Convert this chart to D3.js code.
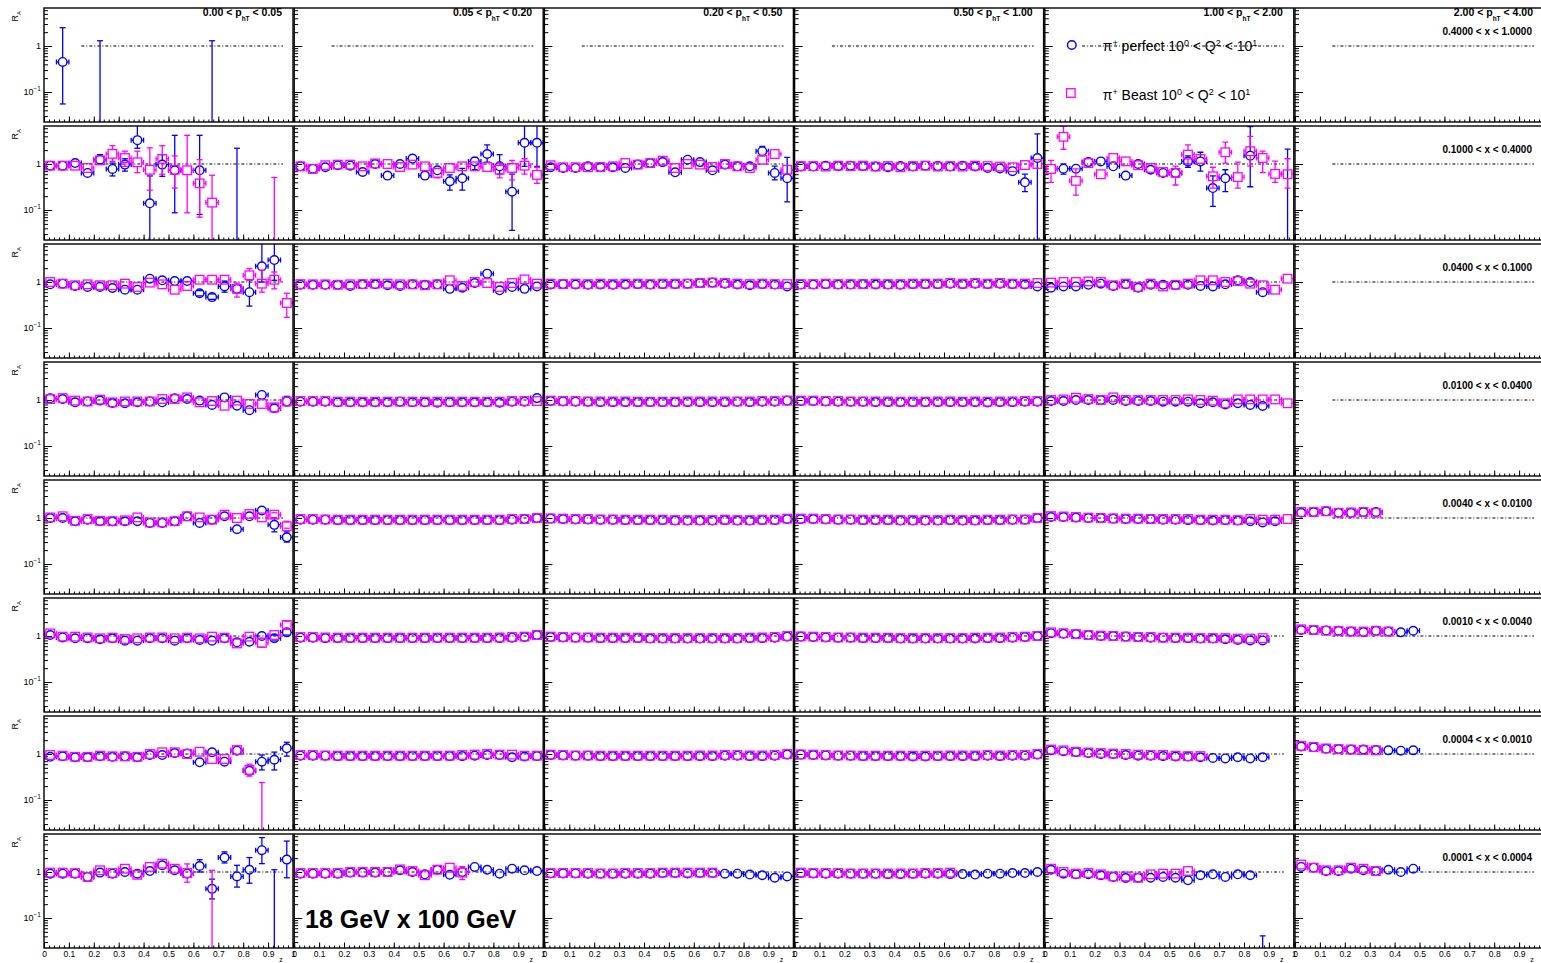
<!DOCTYPE html>
<html>
<head>
<meta charset="utf-8">
<script src="https://cdn.jsdelivr.net/npm/d3@7"></script>
<style>
body { margin: 0; background: #fff; }
text { font-family: "Liberation Sans", Arial, Helvetica, sans-serif; }
</style>
</head>
<body>
<svg width="1541" height="963"></svg>
<script>
// z bin centres and axis labels
var zBins = [0.025,0.075,0.125,0.175,0.225,0.275,0.325,0.375,0.425,0.475,0.525,0.575,0.625,0.675,0.725,0.775,0.825,0.875,0.925,0.975];
var zTicks = [0,0.1,0.2,0.3,0.4,0.5,0.6,0.7,0.8,0.9,1];
var zTickLabels = ['0','0.1','0.2','0.3','0.4','0.5','0.6','0.7','0.8','0.9','1'];

// column (pT) and row (x) bins
var ptLo = ['0.00','0.05','0.20','0.50','1.00','2.00'];
var ptHi = ['0.05','0.20','0.50','1.00','2.00','4.00'];
var xLo = ['0.4000','0.1000','0.0400','0.0100','0.0040','0.0010','0.0004','0.0001'];
var xHi = ['1.0000','0.4000','0.1000','0.0400','0.0100','0.0040','0.0010','0.0004'];

// R_A values, one array per pT column, 20 z bins each (null = no point)
var perfRow0 = [
  [null,0.45,null,null,0.01,null,null,null,null,null,null,null,null,0.01,null,null,null,null,null,null],
  [], [], [], [], []
];
var beastRow0 = [[], [], [], [], [], []];

var perfRow1 = [
  [0.92,0.92,1.05,0.64,1.24,0.78,0.97,3.3,0.14,0.97,0.73,null,0.73,null,null,0.01,null,null,null,null],
  [0.89,0.79,0.85,0.94,0.92,0.67,1.0,0.56,1.0,1.31,0.56,0.73,0.42,0.49,1.14,1.65,0.89,0.25,2.9,2.9],
  [0.85,0.82,0.82,0.89,0.85,0.85,0.82,0.97,1.05,1.1,0.66,1.24,1.1,0.73,0.97,0.89,0.89,1.9,0.64,0.49],
  [0.88,0.88,0.92,0.9,0.92,0.9,0.88,0.85,0.9,0.88,0.92,0.9,0.88,0.92,0.88,0.82,0.8,0.7,0.4,1.35],
  [null,0.79,0.79,1.1,1.14,0.89,0.56,1.0,0.75,0.64,0.64,1.14,1.14,0.3,0.49,null,1.52,null,null,0.01],
  []
];
var beastRow1 = [
  [0.92,0.92,0.92,0.82,1.2,1.66,1.35,1.09,0.75,1.29,0.75,0.73,0.38,0.145,null,null,null,null,0.01,null],
  [0.89,0.78,0.94,0.97,0.97,0.89,1.03,1.0,0.86,0.97,0.89,0.64,0.82,0.89,0.89,0.86,0.75,0.82,0.92,0.58],
  [0.94,0.85,0.85,0.85,0.86,0.89,1.05,0.97,1.05,1.18,0.82,1.0,0.97,0.86,1.0,0.89,0.82,1.24,1.65,0.75],
  [0.9,0.9,0.88,0.92,0.9,0.92,0.88,0.9,0.85,0.9,0.92,0.88,0.9,0.88,0.92,0.9,0.88,0.85,0.95,1.0],
  [0.78,3.9,0.43,1.05,0.6,1.35,1.14,0.94,0.82,0.67,0.64,1.6,1.29,0.54,1.8,0.52,1.9,1.35,0.61,0.6],
  []
];

var perfRow2 = [
  [0.89,0.92,0.82,0.78,0.78,0.74,0.68,0.68,1.18,1.09,1.05,1.05,0.57,0.47,0.8,0.71,0.6,2.2,3.0,null],
  [0.87,0.87,0.87,0.87,0.82,0.89,0.89,0.85,0.82,0.89,0.87,0.89,0.71,0.75,0.95,1.52,0.66,0.78,0.71,0.8],
  [0.88,0.9,0.88,0.87,0.88,0.87,0.88,0.9,0.88,0.9,0.9,0.92,0.95,0.97,0.92,0.88,0.85,0.9,0.88,0.8],
  [0.88,0.88,0.9,0.88,0.88,0.9,0.88,0.88,0.87,0.9,0.9,0.9,0.92,0.9,0.92,0.9,0.92,0.9,0.88,0.8],
  [0.75,0.8,0.8,0.87,0.92,0.82,0.89,0.75,0.87,0.87,0.85,0.87,0.82,0.8,0.89,1.09,1.0,0.6,null,null],
  []
];
var beastRow2 = [
  [1.0,0.92,0.85,0.89,0.85,0.85,0.92,0.78,0.97,0.89,0.68,0.82,1.12,1.12,1.12,0.71,1.4,0.92,1.12,0.35],
  [0.9,0.89,0.89,0.87,0.89,0.9,0.92,0.92,0.89,0.89,0.85,0.89,1.09,0.82,1.0,0.95,0.78,0.95,1.14,0.92],
  [0.92,0.9,0.92,0.9,0.92,0.9,0.92,0.92,0.9,0.92,0.92,0.92,0.95,0.97,0.95,0.92,0.9,0.92,0.9,0.9],
  [0.9,0.9,0.92,0.9,0.9,0.9,0.92,0.9,0.9,0.92,0.92,0.92,0.95,0.92,0.95,0.92,0.95,0.92,0.92,0.95],
  [0.97,1.0,1.0,1.03,1.0,0.85,0.92,0.78,0.92,0.8,0.87,0.92,1.09,1.09,1.0,1.05,0.92,0.85,0.68,1.18],
  []
];

var perfRow3 = [
  [1.09,1.05,0.89,0.93,0.97,0.86,0.85,0.89,0.93,0.89,1.09,1.05,0.97,0.78,1.14,0.75,0.6,1.29,0.66,0.93],
  [0.92,0.92,0.92,0.89,0.89,0.89,0.89,0.89,0.92,0.89,0.89,0.87,0.89,0.89,0.89,0.89,0.87,0.92,0.92,1.1],
  [0.95,0.93,0.92,0.92,0.9,0.9,0.9,0.9,0.9,0.9,0.9,0.9,0.9,0.9,0.9,0.92,0.9,0.92,0.92,0.97],
  [0.95,0.95,0.93,0.92,0.92,0.92,0.9,0.9,0.9,0.9,0.9,0.9,0.9,0.9,0.9,0.88,0.9,0.9,0.92,0.92],
  [0.95,0.95,1.0,1.0,1.0,1.0,0.95,0.95,0.95,0.92,0.92,0.92,0.85,0.89,0.8,0.85,0.78,0.74,null,null],
  []
];
var beastRow3 = [
  [1.05,1.1,0.97,0.93,1.02,0.89,0.93,0.93,0.93,1.05,1.05,1.14,0.89,0.95,0.75,0.97,0.82,0.82,0.69,0.93],
  [0.95,0.95,0.95,0.92,0.92,0.92,0.92,0.92,0.92,0.92,0.92,0.92,0.92,0.92,0.92,0.92,0.92,0.95,0.95,0.95],
  [0.97,0.95,0.95,0.93,0.93,0.93,0.93,0.92,0.92,0.92,0.92,0.93,0.93,0.93,0.93,0.93,0.93,0.95,0.95,0.97],
  [0.97,0.97,0.95,0.95,0.93,0.93,0.93,0.93,0.92,0.92,0.92,0.93,0.93,0.92,0.93,0.92,0.93,0.93,0.95,0.95],
  [1.0,1.03,1.12,1.05,1.0,1.14,1.0,1.0,1.0,1.0,1.0,1.03,1.0,0.97,0.85,1.03,1.03,1.03,1.03,0.85],
  []
];

var perfRow4 = [
  [1.0,1.0,0.85,0.92,0.85,0.85,0.85,0.85,0.78,0.78,0.85,1.09,0.78,0.92,1.09,0.57,1.09,1.45,0.71,0.38],
  [0.92,0.92,0.92,0.9,0.9,0.9,0.9,0.9,0.9,0.9,0.9,0.9,0.9,0.9,0.9,0.9,0.9,0.92,0.95,1.0],
  [0.97,0.95,0.93,0.93,0.92,0.92,0.9,0.9,0.9,0.9,0.88,0.88,0.88,0.88,0.9,0.88,0.88,0.9,0.9,0.95],
  [0.95,0.95,0.93,0.92,0.92,0.9,0.9,0.9,0.88,0.88,0.88,0.88,0.9,0.88,0.88,0.9,0.9,0.92,0.92,1.0],
  [1.05,1.05,1.02,1.0,1.0,0.97,0.95,0.95,0.95,0.92,0.92,0.9,0.9,0.88,0.9,0.88,0.85,0.8,0.85,null],
  [1.3,1.35,1.4,1.3,1.3,1.35,1.35]
];
var beastRow4 = [
  [1.03,1.09,0.87,0.95,0.87,0.85,0.89,1.03,0.8,0.8,0.85,1.09,1.03,0.92,1.18,1.0,1.22,1.03,1.18,0.66],
  [0.95,0.95,0.93,0.92,0.92,0.92,0.92,0.92,0.92,0.92,0.92,0.92,0.92,0.92,0.92,0.92,0.92,0.95,0.95,1.0],
  [0.98,0.97,0.95,0.95,0.93,0.93,0.92,0.92,0.92,0.92,0.9,0.9,0.9,0.9,0.92,0.9,0.9,0.92,0.92,0.97],
  [0.97,0.97,0.95,0.93,0.93,0.92,0.92,0.92,0.9,0.9,0.9,0.9,0.92,0.9,0.9,0.92,0.92,0.93,0.93,1.0],
  [1.1,1.08,1.05,1.02,1.0,0.98,0.97,0.97,0.95,0.95,0.95,0.95,0.92,0.92,0.92,0.9,0.95,0.92,0.92,0.95],
  [1.35,1.35,1.4,1.3,1.32,1.35,1.3]
];

var perfRow5 = [
  [1.05,0.93,0.89,0.89,0.85,0.89,0.79,0.79,0.89,0.89,0.79,0.89,0.82,0.79,0.89,0.73,0.75,1.0,0.89,1.2],
  [0.92,0.92,0.9,0.9,0.9,0.9,0.9,0.9,0.9,0.9,0.9,0.9,0.9,0.9,0.9,0.9,0.9,0.92,0.95,1.05],
  [0.95,0.93,0.92,0.92,0.9,0.9,0.9,0.9,0.88,0.88,0.88,0.88,0.88,0.88,0.88,0.88,0.9,0.9,0.92,0.97],
  [0.97,0.95,0.93,0.92,0.92,0.9,0.9,0.9,0.88,0.88,0.88,0.88,0.88,0.88,0.88,0.9,0.9,0.92,0.95,1.0],
  [1.15,1.12,1.1,1.05,1.0,1.0,0.97,0.95,0.92,0.92,0.9,0.9,0.88,0.88,0.85,0.82,0.8,0.8,null,null],
  [1.35,1.35,1.32,1.3,1.25,1.22,1.3,1.25,1.2,1.3]
];
var beastRow5 = [
  [1.14,0.97,0.97,0.93,0.89,0.92,0.86,0.89,0.93,0.93,0.89,0.92,0.89,0.97,0.92,0.69,0.97,0.71,1.05,1.74],
  [0.95,0.95,0.93,0.92,0.92,0.92,0.92,0.92,0.92,0.92,0.92,0.92,0.92,0.92,0.92,0.92,0.93,0.95,0.97,1.05],
  [0.97,0.95,0.93,0.93,0.92,0.92,0.92,0.92,0.9,0.9,0.9,0.9,0.9,0.9,0.9,0.9,0.92,0.93,0.95,1.0],
  [0.98,0.97,0.95,0.93,0.93,0.92,0.92,0.92,0.9,0.9,0.9,0.9,0.9,0.9,0.92,0.92,0.93,0.95,0.97,1.0],
  [1.2,1.15,1.1,1.05,1.02,1.0,0.97,0.95,0.95,0.92,0.92,0.92,0.9,0.9,0.9,0.88,0.88,0.9,null,null],
  [1.4,1.35,1.3,1.28,1.25,1.25,1.3,1.25]
];

var perfRow6 = [
  [0.87,0.89,0.85,0.85,0.89,0.87,0.89,0.85,0.95,0.95,1.05,1.03,0.66,1.09,0.68,1.18,0.43,0.68,0.75,1.33],
  [0.92,0.92,0.92,0.9,0.9,0.9,0.9,0.9,0.9,0.9,0.9,0.9,0.9,0.9,0.92,0.95,0.95,0.85,0.88,0.9],
  [0.95,0.93,0.92,0.92,0.9,0.9,0.9,0.9,0.9,0.9,0.9,0.9,0.9,0.9,0.92,0.92,0.9,0.9,0.92,0.97],
  [0.97,0.95,0.93,0.92,0.92,0.9,0.9,0.9,0.9,0.88,0.88,0.9,0.9,0.9,0.9,0.92,0.9,0.92,0.92,0.97],
  [1.2,1.15,1.1,1.05,1.0,1.0,0.95,0.92,0.92,0.9,0.88,0.88,0.85,0.82,0.8,0.85,0.8,0.85,null,null],
  [1.45,1.4,1.3,1.28,1.25,1.25,1.22,1.2,1.18,1.2]
];
var beastRow6 = [
  [0.95,0.92,0.87,0.87,0.92,0.89,0.89,0.87,1.0,1.09,1.09,1.0,1.12,0.78,0.78,1.22,0.45,0.005,null,null],
  [0.95,0.95,0.93,0.92,0.92,0.92,0.92,0.92,0.92,0.92,0.92,0.92,0.92,0.95,0.97,1.0,0.97,0.97,0.92,0.92],
  [0.97,0.95,0.93,0.93,0.92,0.92,0.92,0.92,0.92,0.92,0.92,0.92,0.93,0.93,0.95,0.95,0.93,0.93,0.95,1.0],
  [0.98,0.97,0.95,0.93,0.93,0.92,0.92,0.92,0.92,0.92,0.92,0.92,0.93,0.93,0.93,0.95,0.93,0.95,0.95,1.0],
  [1.25,1.2,1.12,1.08,1.05,1.02,1.0,0.97,0.95,0.95,0.92,0.9,0.9],
  [1.5,1.42,1.32,1.28,1.25,1.22,1.2]
];

var perfRow7 = [
  [0.92,0.92,0.92,0.78,0.97,0.92,1.0,0.92,1.05,1.4,1.09,0.92,1.35,0.43,2.06,0.8,1.12,2.98,0.005,1.86],
  [0.92,0.92,0.92,0.92,0.97,0.97,0.97,1.0,1.09,1.0,0.89,1.12,0.87,1.0,1.29,1.12,0.92,1.18,1.09,1.05],
  [0.93,0.93,0.93,0.92,0.92,0.92,0.92,0.92,0.92,0.95,0.95,0.93,0.95,0.95,0.92,0.92,0.88,0.85,0.75,0.8],
  [0.95,0.93,0.92,0.92,0.92,0.92,0.92,0.9,0.9,0.92,0.92,0.92,0.9,0.9,0.88,0.92,0.92,0.95,0.95,1.0],
  [1.12,0.92,0.89,0.89,0.85,0.78,0.74,0.75,0.75,0.78,0.75,0.66,0.85,0.89,0.78,0.89,0.85,0.005,null,null],
  [1.29,1.24,1.05,1.05,1.18,1.09,1.05,1.12,1.0,1.18]
];
var beastRow7 = [
  [0.97,0.97,0.95,0.78,1.09,0.95,1.18,0.87,1.29,1.52,1.18,0.95,null,0.005],
  [0.95,0.95,0.95,0.95,1.0,1.0,1.0,1.0,1.14,1.05,0.85,1.12,1.24,0.97],
  [0.95,0.95,0.95,0.95,0.93,0.93,0.95,0.95,0.95,0.97,0.97,0.97,0.97,0.97],
  [0.97,0.95,0.95,0.95,0.93,0.93,0.93,0.93,0.93,0.93,0.95,0.95,0.97],
  [1.18,1.0,0.92,0.95,0.89,0.8,0.8,0.75,0.89,0.92,0.92,1.05],
  [1.45,1.24,1.09,1.09,1.24,1.18,1.05]
];

// large vertical error bars: [row, col, bin, low end, high end]
var perfBars = [
  [0,0,1,0.055,2.5],[0,0,4,0.001,1.3],[0,0,13,0.001,1.3],
  [1,0,4,1.0,1.6],[1,0,5,0.55,1.05],[1,0,6,0.7,1.3],[1,0,7,2.2,8],[1,0,8,0.001,0.55],[1,0,9,0.54,1.6],
  [1,0,10,0.087,4.2],[1,0,12,0.08,4.2],[1,0,15,0.001,2.2],
  [1,1,12,0.27,0.58],[1,1,13,0.27,0.8],[1,1,14,0.75,1.4],[1,1,15,1.1,2.6],[1,1,16,0.6,1.6],
  [1,1,17,0.036,0.6],[1,1,18,0.89,8],[1,1,19,0.89,8],
  [1,2,17,1.5,2.4],[1,2,18,0.45,0.9],[1,2,19,0.15,1.4],
  [1,3,18,0.25,0.6],[1,3,19,0.001,4.5],
  [1,4,1,0.6,1.0],[1,4,11,0.85,1.5],[1,4,12,0.7,1.8],[1,4,13,0.12,0.55],[1,4,14,0.25,0.75],
  [1,4,16,0.32,6.5],[1,4,19,0.001,2.1],
  [2,0,12,0.5,0.65],[2,0,13,0.42,0.55],[2,0,14,0.6,1.05],[2,0,16,0.3,1.09],[2,0,17,1.0,8],[2,0,18,1.09,8],
  [3,0,18,0.55,0.8],[3,0,19,0.75,1.2],
  [4,0,18,0.5,1.0],[4,0,19,0.3,0.5],
  [5,0,18,0.78,1.05],[5,0,19,1.05,1.4],
  [6,0,17,0.45,0.95],[6,0,18,0.45,1.1],[6,0,19,0.9,1.8],
  [7,0,12,1.0,1.85],[7,0,13,0.26,0.7],[7,0,14,1.57,2.74],[7,0,15,0.47,1.4],[7,0,16,0.57,2.06],
  [7,0,17,1.52,5.6],[7,0,18,0.001,1.12],[7,0,19,0.75,4.7],
  [7,4,17,0.001,0.041]
];
var beastBars = [
  [1,0,5,1.14,2.5],[1,0,6,0.89,1.9],[1,0,7,0.65,1.9],[1,0,8,0.27,2.25],[1,0,9,0.6,2.5],
  [1,0,10,0.3,1.5],[1,0,11,0.087,4.2],[1,0,12,0.07,1.24],[1,0,13,0.001,0.57],[1,0,18,0.001,0.51],
  [1,1,11,0.5,0.8],[1,1,16,0.5,1.05],[1,1,17,0.45,1.2],[1,1,18,0.6,1.3],[1,1,19,0.38,0.85],
  [1,4,0,0.4,1.2],[1,4,1,2.07,6.7],[1,4,2,0.21,0.78],[1,4,10,0.35,0.9],[1,4,11,1.0,2.6],
  [1,4,13,0.3,0.85],[1,4,14,1.05,3.0],[1,4,15,0.3,1.1],[1,4,16,0.9,4.0],[1,4,17,0.65,1.9],
  [1,4,18,0.4,1.15],[1,4,19,0.3,1.3],
  [2,0,15,0.47,0.95],[2,0,16,1.09,1.96],[2,0,17,0.6,1.8],[2,0,18,0.71,1.65],[2,0,19,0.17,0.57],
  [3,0,18,0.55,0.85],
  [4,0,18,1.0,1.3],[4,0,19,0.6,0.85],
  [5,0,17,0.57,0.9],[5,0,19,1.45,2.1],
  [6,0,16,0.33,0.6],[6,0,17,0.001,0.24],
  [7,0,11,0.6,1.5],[7,0,13,0.001,1.09],
  [7,1,13,0.68,1.3]
];

var perfect = [perfRow0, perfRow1, perfRow2, perfRow3, perfRow4, perfRow5, perfRow6, perfRow7];
var beast = [beastRow0, beastRow1, beastRow2, beastRow3, beastRow4, beastRow5, beastRow6, beastRow7];

var svg = d3.select('svg');
var colW = 250.2, rowH = 118, frameW = 249, frameH = 114;
var blue = '#0000ff', pink = '#ff00ff';

var zMinor = d3.range(0, 1.0001, 0.02);
var yMajor = [0.1, 1];
var yMinor = [0.03,0.04,0.05,0.06,0.07,0.08,0.09,0.2,0.3,0.4,0.5,0.6,0.7,0.8,0.9,2,3,4,5,6];

function marker(g, kind, cx, cy, color) {
    if (kind === 'circle') {
        g.append('circle')
            .attr('cx', cx).attr('cy', cy).attr('r', 4.3)
            .attr('fill', 'none').attr('stroke', color).attr('stroke-width', 1.4);
    } else {
        g.append('rect')
            .attr('x', cx - 4.3).attr('y', cy - 4.3)
            .attr('width', 8.6).attr('height', 8.6)
            .attr('fill', 'none').attr('stroke', color).attr('stroke-width', 1.3);
    }
}

function line(g, x1, y1, x2, y2, color, w) {
    g.append('line')
        .attr('x1', x1).attr('y1', y1).attr('x2', x2).attr('y2', y2)
        .attr('stroke', color).attr('stroke-width', w || 1.3);
}

function drawSeries(g, x, y, vals, bars, r, c, kind, color) {
    var half = x(0.025) - x(0);
    var m = 4.3;
    vals.forEach(function(v, i) {
        if (v === null || v === undefined) return;
        var cx = x(zBins[i]), cy = y(v);
        // horizontal bin-width bar
        line(g, cx - half, cy, cx - m, cy, color);
        line(g, cx + m, cy, cx + half, cy, color);
        line(g, cx - half, cy - 2.5, cx - half, cy + 2.5, color);
        line(g, cx + half, cy - 2.5, cx + half, cy + 2.5, color);
        marker(g, kind, cx, cy, color);
    });
    bars.forEach(function(b) {
        if (b[0] !== r || b[1] !== c) return;
        var v = vals[b[2]];
        var cx = x(zBins[b[2]]);
        var yl = y(b[3]), yh = y(b[4]);
        if (v === null || v === undefined) {
            line(g, cx, yh, cx, yl, color);
        } else {
            var cy = y(v);
            if (yh < cy - 4.3) line(g, cx, yh, cx, cy - 4.3, color);
            if (yl > cy + 4.3) line(g, cx, cy + 4.3, cx, yl, color);
        }
        line(g, cx - 3, yh, cx + 3, yh, color);
        line(g, cx - 3, yl, cx + 3, yl, color);
    });
}

for (var r = 0; r < 8; r++) {
    for (var c = 0; c < 6; c++) {
        var x0 = 44 + c * colW, y0 = 8 + r * rowH;
        var x = d3.scaleLinear().domain([0, 1]).range([x0, x0 + frameW]);
        var y = d3.scaleLog().domain([0.0223, 6.7]).range([y0 + frameH, y0]);
        var id = 'clip' + r + '_' + c;

        svg.append('clipPath').attr('id', id)
            .append('rect')
            .attr('x', x0).attr('y', y0).attr('width', frameW).attr('height', frameH);

        // bottom axis, ticks pointing inward
        var xa = svg.append('g').attr('transform', 'translate(0,' + (y0 + frameH) + ')');
        xa.call(d3.axisBottom(x).tickValues(zMinor).tickSizeInner(-2.5).tickSizeOuter(0).tickFormat(''));
        var xb = svg.append('g').attr('transform', 'translate(0,' + (y0 + frameH) + ')');
        xb.call(d3.axisBottom(x).tickValues(zTicks).tickSizeInner(-5.5).tickSizeOuter(0).tickPadding(3)
            .tickFormat(function(d, i) {
                // the last column's "1" falls outside the canvas
                if (r !== 7 || (c === 5 && i === 10)) return '';
                return zTickLabels[i];
            }));
        xa.select('.domain').remove();
        xb.select('.domain').remove();
        xb.selectAll('text').attr('font-size', 8.5).attr('fill', '#000')
            .style('font-family', '"Liberation Sans", Arial, sans-serif');
        xa.selectAll('line').attr('stroke', '#000');
        xb.selectAll('line').attr('stroke', '#000');

        // left axis, log, ticks pointing inward
        var ya = svg.append('g').attr('transform', 'translate(' + x0 + ',0)');
        ya.call(d3.axisLeft(y).tickValues(yMinor).tickSizeInner(-4).tickSizeOuter(0).tickFormat(''));
        var yb = svg.append('g').attr('transform', 'translate(' + x0 + ',0)');
        yb.call(d3.axisLeft(y).tickValues(yMajor).tickSizeInner(-8).tickSizeOuter(0).tickFormat(''));
        ya.select('.domain').remove();
        yb.select('.domain').remove();
        ya.selectAll('line').attr('stroke', '#000');
        yb.selectAll('line').attr('stroke', '#000');

        if (c === 0) {
            svg.append('text').attr('x', x0 - 3).attr('y', y(1) + 3)
                .attr('text-anchor', 'end').attr('font-size', 9).text('1');
            var t = svg.append('text').attr('x', x0 - 3).attr('y', y(0.1) + 3)
                .attr('text-anchor', 'end').attr('font-size', 9);
            t.append('tspan').text('10');
            t.append('tspan').attr('dy', -4).attr('font-size', 6.5).text('\u22121');
            var rt = svg.append('text')
                .attr('transform', 'translate(18,' + (y0 + 3) + ') rotate(-90)')
                .attr('text-anchor', 'end').attr('font-size', 9);
            rt.append('tspan').text('R');
            rt.append('tspan').attr('dy', 2.5).attr('font-size', 6).text('A');
        }

        var g = svg.append('g').attr('clip-path', 'url(#' + id + ')');

        // reference line at R_A = 1
        g.append('line')
            .attr('x1', x(0.15)).attr('x2', x(0.96))
            .attr('y1', y(1)).attr('y2', y(1))
            .attr('stroke', '#000').attr('stroke-width', 1)
            .attr('stroke-dasharray', '3,2,1,2');

        drawSeries(g, x, y, perfect[r][c], perfBars, r, c, 'circle', blue);
        drawSeries(g, x, y, beast[r][c], beastBars, r, c, 'square', pink);

        // frame
        svg.append('rect')
            .attr('x', x0).attr('y', y0).attr('width', frameW).attr('height', frameH)
            .attr('fill', 'none').attr('stroke', '#000').attr('stroke-width', 1.4);

        if (r === 0) {
            var h = svg.append('text').attr('x', x0 + frameW - 11).attr('y', y0 + 8)
                .attr('text-anchor', 'end').attr('font-size', 10.5).attr('font-weight', 'bold');
            h.append('tspan').text(ptLo[c] + ' < p');
            h.append('tspan').attr('dy', 5).attr('font-size', 6.5).text('hT');
            h.append('tspan').attr('dy', -5).text(' < ' + ptHi[c]);
        }
        if (c === 5) {
            svg.append('text').attr('x', x0 + frameW - 12).attr('y', y0 + 27)
                .attr('text-anchor', 'end').attr('font-size', 10).attr('font-weight', 'bold')
                .text(xLo[r] + ' < x < ' + xHi[r]);
        }
        if (r === 7) {
            svg.append('text').attr('x', x(0.945)).attr('y', 962)
                .attr('font-size', 7).text('z');
        }
    }
}

// legend inside the panel of row 0, column 4
var lx = 44 + 4 * colW;
marker(svg, 'circle', lx + 27, 45, blue);
marker(svg, 'square', lx + 26, 93, pink);
var l1 = svg.append('text').attr('x', lx + 58).attr('y', 51).attr('font-size', 14);
l1.append('tspan').text('\u03c0');
l1.append('tspan').attr('dy', -5).attr('font-size', 9).text('+');
l1.append('tspan').attr('dy', 5).text(' perfect 10');
l1.append('tspan').attr('dy', -5).attr('font-size', 9).text('0');
l1.append('tspan').attr('dy', 5).text(' < Q');
l1.append('tspan').attr('dy', -5).attr('font-size', 9).text('2');
l1.append('tspan').attr('dy', 5).text(' < 10');
l1.append('tspan').attr('dy', -5).attr('font-size', 9).text('1');
var l2 = svg.append('text').attr('x', lx + 58).attr('y', 100).attr('font-size', 14);
l2.append('tspan').text('\u03c0');
l2.append('tspan').attr('dy', -5).attr('font-size', 9).text('+');
l2.append('tspan').attr('dy', 5).text(' Beast 10');
l2.append('tspan').attr('dy', -5).attr('font-size', 9).text('0');
l2.append('tspan').attr('dy', 5).text(' < Q');
l2.append('tspan').attr('dy', -5).attr('font-size', 9).text('2');
l2.append('tspan').attr('dy', 5).text(' < 10');
l2.append('tspan').attr('dy', -5).attr('font-size', 9).text('1');

// beam energies
svg.append('text').attr('x', 305).attr('y', 928)
    .attr('font-size', 25).attr('font-weight', 'bold')
    .text('18 GeV x 100 GeV');
</script>
</body>
</html>
